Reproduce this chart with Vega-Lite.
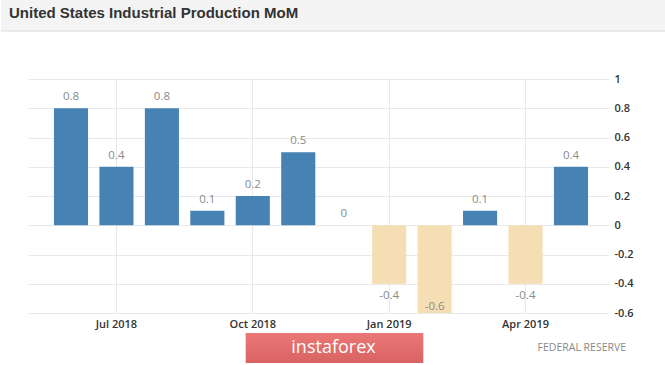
{
  "$schema": "https://vega.github.io/schema/vega-lite/v6.json",
  "padding": 0,
  "background": "white",
  "config": {
    "view": {"stroke": null}
  },
  "spacing": 41,
  "vconcat": [
    {
      "width": 665,
      "height": 31,
      "view": {"fill": "#f4f4f4", "stroke": null},
      "title": {
        "text": "United States Industrial Production MoM",
        "anchor": "start",
        "frame": "group",
        "offset": -21,
        "dx": 8,
        "font": "Liberation Sans",
        "fontSize": 15,
        "fontWeight": "bold",
        "color": "#333333"
      },
      "data": {"values": [{"edge": 0}]},
      "mark": {"type": "rule", "color": "#dadada", "strokeWidth": 1},
      "encoding": {
        "y": {"datum": 0, "type": "quantitative", "scale": {"domain": [0, 1]}, "axis": null}
      }
    },
    {
      "spacing": 4,
      "vconcat": [
        {
          "bounds": "flush",
          "spacing": 0,
          "hconcat": [
            {
              "width": 27,
              "height": 234,
              "data": {"values": []},
              "mark": "point",
              "encoding": {}
            },
            {
              "width": 581,
              "height": 234,
              "data": {
                "values": [
                  {"month": "Jun 2018", "value": 0.8},
                  {"month": "Jul 2018", "value": 0.4},
                  {"month": "Aug 2018", "value": 0.8},
                  {"month": "Sep 2018", "value": 0.1},
                  {"month": "Oct 2018", "value": 0.2},
                  {"month": "Nov 2018", "value": 0.5},
                  {"month": "Dec 2018", "value": 0},
                  {"month": "Jan 2019", "value": -0.4},
                  {"month": "Feb 2019", "value": -0.6},
                  {"month": "Mar 2019", "value": 0.1},
                  {"month": "Apr 2019", "value": -0.4},
                  {"month": "May 2019", "value": 0.4}
                ]
              },
              "encoding": {
                "x": {
                  "field": "month",
                  "type": "ordinal",
                  "sort": null,
                  "scale": {"paddingInner": 0.25, "paddingOuter": 0.516, "align": 0.553},
                  "axis": {
                    "values": ["Jul 2018", "Oct 2018", "Jan 2019", "Apr 2019"],
                    "bandPosition": 0.5,
                    "title": null,
                    "grid": true,
                    "gridColor": "#e9e9e9",
                    "domain": false,
                    "ticks": false,
                    "labelPadding": 5,
                    "labelFont": "Open Sans",
                    "labelFontSize": 11,
                    "labelFontWeight": 600,
                    "labelColor": "#333333",
                    "labelAngle": 0
                  }
                },
                "y": {
                  "field": "value",
                  "type": "quantitative",
                  "scale": {"domain": [-0.6, 1], "nice": false, "zero": false},
                  "axis": {
                    "orient": "right",
                    "values": [-0.6, -0.4, -0.2, 0, 0.2, 0.4, 0.6, 0.8, 1],
                    "labelExpr": "toString(datum.value)",
                    "title": null,
                    "grid": true,
                    "gridColor": "#e9e9e9",
                    "domain": false,
                    "ticks": false,
                    "labelPadding": 5,
                    "labelFont": "Open Sans",
                    "labelFontSize": 11,
                    "labelFontWeight": 600,
                    "labelColor": "#333333"
                  }
                }
              },
              "layer": [
                {
                  "mark": {"type": "bar"},
                  "encoding": {
                    "color": {
                      "condition": {"test": "datum.value < 0", "value": "#f5deb3"},
                      "value": "#4682b4"
                    }
                  }
                },
                {
                  "mark": {
                    "type": "text",
                    "baseline": "middle",
                    "font": "Open Sans",
                    "fontSize": 11.5,
                    "color": "#8a8a8a",
                    "dy": {"expr": "datum.value < -0.55 ? -6 : (datum.value < 0 ? 12 : -11)"}
                  },
                  "encoding": {
                    "text": {"field": "value", "type": "nominal"}
                  }
                }
              ]
            }
          ]
        },
        {
          "width": 665,
          "height": 30,
          "data": {"values": [{"brand": "instaforex", "source": "FEDERAL RESERVE"}]},
          "encoding": {
            "y": {"datum": 0.5, "type": "quantitative", "scale": {"domain": [0, 1]}, "axis": null}
          },
          "layer": [
            {
              "mark": {
                "type": "rect",
                "color": {
                  "gradient": "linear",
                  "x1": 0, "y1": 0, "x2": 0, "y2": 1,
                  "stops": [
                    {"offset": 0, "color": "#ea7777"},
                    {"offset": 1, "color": "#da6262"}
                  ]
                }
              },
              "encoding": {
                "x": {"datum": 0.368, "type": "quantitative", "scale": {"domain": [0, 1]}, "axis": null},
                "x2": {"datum": 0.635},
                "y": {"datum": 0, "type": "quantitative"},
                "y2": {"datum": 1}
              }
            },
            {
              "mark": {"type": "text", "font": "Open Sans", "fontSize": 18, "color": "white", "align": "center", "baseline": "middle"},
              "encoding": {
                "x": {"datum": 0.5, "type": "quantitative"},
                "text": {"field": "brand"}
              }
            },
            {
              "mark": {"type": "text", "font": "Open Sans", "fontSize": 10.5, "color": "#8a8a8a", "align": "right", "baseline": "middle"},
              "encoding": {
                "x": {"datum": 0.94, "type": "quantitative"},
                "text": {"field": "source"}
              }
            }
          ]
        }
      ]
    }
  ]
}
